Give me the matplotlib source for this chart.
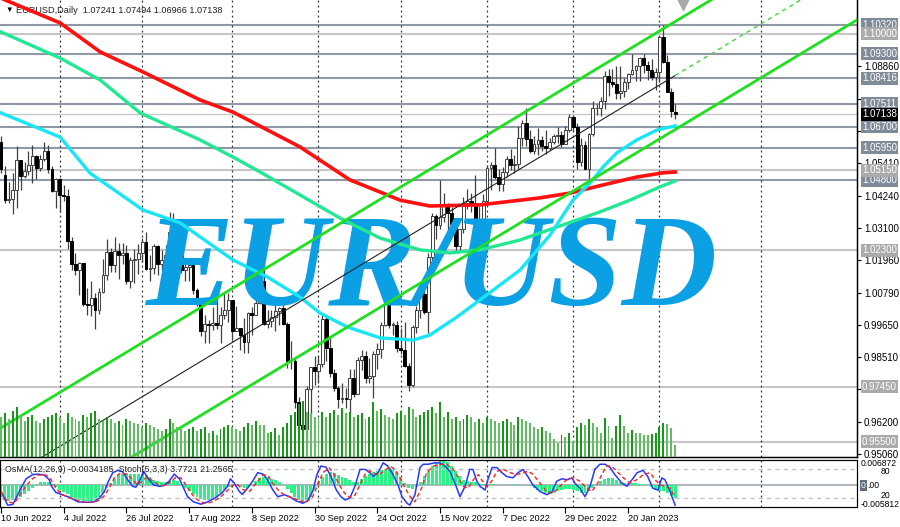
import numpy as np
import matplotlib
matplotlib.use('Agg')
import matplotlib.pyplot as plt

plt.rcParams['font.family'] = ['Liberation Sans', 'DejaVu Sans']

# EURUSD daily bars, 10 Jun 2022 .. 7 Feb 2023 (bar index 0..172)
opens = [1.0617, 1.0500, 1.0409, 1.0414, 1.0446, 1.0550, 1.0494, 1.0513, 1.0535, 1.0566, 1.0523, 1.0554, 1.0583, 1.0518, 1.0443,
         1.0484, 1.0426, 1.0423, 1.0265, 1.0182, 1.0160, 1.0186, 1.0040, 1.0037, 1.0062, 1.0019, 1.0083, 1.0141, 1.0226, 1.0177,
         1.0229, 1.0212, 1.0222, 1.0120, 1.0197, 1.0198, 1.0222, 1.0259, 1.0163, 1.0167, 1.0246, 1.0182, 1.0196, 1.0212, 1.0297,
         1.0323, 1.0258, 1.0161, 1.0171, 1.0178, 1.0088, 1.0038, 0.9943, 0.9967, 0.9966, 0.9971, 0.9965, 1.0002, 1.0017, 1.0054,
         0.9945, 0.9954, 0.9928, 0.9903, 1.0008, 1.0000, 1.0043, 1.0121, 0.9967, 0.9980, 0.9993, 1.0014, 1.0025, 0.9970, 0.9836,
         0.9838, 0.9690, 0.9608, 0.9594, 0.9736, 0.9815, 0.9802, 0.9825, 0.9987, 0.9882, 0.9793, 0.9742, 0.9702, 0.9706, 0.9703,
         0.9777, 0.9721, 0.9842, 0.9854, 0.9775, 0.9784, 0.9861, 0.9879, 0.9964, 1.0078, 0.9966, 0.9966, 0.9882, 0.9876, 0.9818,
         0.9751, 0.9959, 1.0017, 1.0075, 1.0012, 1.0206, 1.0354, 1.0321, 1.0349, 1.0391, 1.0363, 1.0325, 1.0245, 1.0305, 1.0397,
         1.0407, 1.0398, 1.0340, 1.0329, 1.0406, 1.0522, 1.0535, 1.0490, 1.0468, 1.0508, 1.0554, 1.0535, 1.0536, 1.0629, 1.0683,
         1.0626, 1.0585, 1.0609, 1.0622, 1.0603, 1.0594, 1.0614, 1.0636, 1.0639, 1.0610, 1.0660, 1.0705, 1.0668, 1.0545, 1.0606,
         1.0521, 1.0644, 1.0735, 1.0735, 1.0762, 1.0852, 1.0829, 1.0821, 1.0789, 1.0796, 1.0830, 1.0856, 1.0870, 1.0885, 1.0915,
         1.0891, 1.0870, 1.0848, 1.0863, 1.0988, 1.0900, 1.0795, 1.07241]
highs = [1.0637, 1.0531, 1.0475, 1.0506, 1.0601, 1.0550, 1.0545, 1.0582, 1.0606, 1.0568, 1.0570, 1.0614, 1.0605, 1.0532, 1.0487,
         1.0486, 1.0461, 1.0447, 1.0276, 1.0221, 1.0188, 1.0187, 1.0097, 1.0122, 1.0078, 1.0097, 1.0200, 1.0269, 1.0237, 1.0278,
         1.0257, 1.0258, 1.0249, 1.0206, 1.0234, 1.0254, 1.0274, 1.0294, 1.0214, 1.0254, 1.0249, 1.0230, 1.0248, 1.0368, 1.0364,
         1.0330, 1.0268, 1.0202, 1.0201, 1.0191, 1.0095, 1.0050, 0.9999, 0.9982, 1.0030, 1.0090, 1.0028, 1.0080, 1.0079, 1.0055,
         1.0034, 0.9955, 0.9988, 1.0011, 1.0029, 1.0113, 1.0198, 1.0187, 1.0019, 1.0017, 1.0037, 1.0029, 1.0051, 0.9977, 0.9907,
         0.9852, 0.9708, 0.9671, 0.9748, 0.9815, 0.9853, 0.9853, 0.9999, 0.9996, 0.9924, 0.9810, 0.9749, 0.9760, 0.9740, 0.9808,
         0.9808, 0.9850, 0.9876, 0.9873, 0.9848, 0.9871, 0.9901, 0.9976, 1.0094, 1.0090, 0.9977, 0.9980, 0.9954, 0.9977, 0.9829,
         0.9966, 1.0034, 1.0096, 1.0093, 1.0222, 1.0364, 1.0361, 1.0481, 1.0436, 1.0397, 1.0385, 1.0330, 1.0307, 1.0420, 1.0448,
         1.0433, 1.0497, 1.0389, 1.0429, 1.0533, 1.0545, 1.0595, 1.0518, 1.0527, 1.0566, 1.0589, 1.0568, 1.0673, 1.0694, 1.0736,
         1.0658, 1.0637, 1.0666, 1.0638, 1.0658, 1.0629, 1.0645, 1.0670, 1.0654, 1.0673, 1.0714, 1.0710, 1.0684, 1.0631, 1.0620,
         1.0648, 1.0760, 1.0752, 1.0777, 1.0868, 1.0874, 1.0874, 1.0887, 1.0887, 1.0843, 1.0861, 1.0927, 1.0888, 1.0919, 1.0930,
         1.0903, 1.0912, 1.0880, 1.0991, 1.1033, 1.0926, 1.0806, 1.07494]
lows = [1.0507, 1.0398, 1.0397, 1.0359, 1.0382, 1.0446, 1.0486, 1.0499, 1.0469, 1.0485, 1.0511, 1.0548, 1.0505, 1.0437, 1.0382,
        1.0366, 1.0407, 1.0236, 1.0161, 1.0144, 1.0072, 1.0034, 1.0000, 0.9998, 0.9952, 1.0005, 1.0077, 1.0124, 1.0152, 1.0153,
        1.0130, 1.0182, 1.0110, 1.0096, 1.0115, 1.0145, 1.0190, 1.0161, 1.0122, 1.0145, 1.0142, 1.0158, 1.0190, 1.0202, 1.0272,
        1.0235, 1.0148, 1.0122, 1.0123, 1.0075, 1.0033, 0.9926, 0.9900, 0.9902, 0.9946, 0.9950, 0.9900, 0.9986, 0.9976, 0.9910,
        0.9942, 0.9877, 0.9864, 0.9864, 0.9930, 0.9999, 1.0041, 0.9966, 0.9953, 0.9956, 0.9945, 0.9966, 0.9966, 0.9813, 0.9807,
        0.9671, 0.9552, 0.9575, 0.9536, 0.9636, 0.9750, 0.9757, 0.9815, 0.9835, 0.9780, 0.9730, 0.9669, 0.9686, 0.9670, 0.9632,
        0.9710, 0.9720, 0.9805, 0.9758, 0.9757, 0.9704, 0.9810, 0.9848, 0.9963, 0.9953, 0.9930, 0.9870, 0.9862, 0.9815, 0.9730,
        0.9745, 0.9935, 0.9991, 1.0004, 0.9938, 1.0188, 1.0270, 1.0308, 1.0331, 1.0294, 1.0306, 1.0223, 1.0225, 1.0291, 1.0378,
        1.0365, 1.0340, 1.0290, 1.0290, 1.0391, 1.0446, 1.0485, 1.0443, 1.0443, 1.0490, 1.0515, 1.0505, 1.0520, 1.0600, 1.0602,
        1.0576, 1.0574, 1.0568, 1.0583, 1.0574, 1.0588, 1.0610, 1.0613, 1.0598, 1.0610, 1.0651, 1.0654, 1.0520, 1.0530, 1.0521,
        1.0483, 1.0636, 1.0713, 1.0708, 1.0733, 1.0780, 1.0812, 1.0767, 1.0767, 1.0777, 1.0804, 1.0853, 1.0834, 1.0834, 1.0862,
        1.0835, 1.0836, 1.0799, 1.0829, 1.0897, 1.0794, 1.0706, 1.06966]
closes = [1.0518, 1.0408, 1.0414, 1.0446, 1.0550, 1.0494, 1.0513, 1.0535, 1.0566, 1.0523, 1.0554, 1.0583, 1.0518, 1.0443, 1.0484,
          1.0426, 1.0423, 1.0265, 1.0182, 1.0160, 1.0186, 1.0040, 1.0037, 1.0062, 1.0019, 1.0083, 1.0141, 1.0226, 1.0177, 1.0229,
          1.0212, 1.0222, 1.0120, 1.0197, 1.0198, 1.0222, 1.0259, 1.0163, 1.0167, 1.0246, 1.0182, 1.0196, 1.0212, 1.0297, 1.0323,
          1.0258, 1.0161, 1.0171, 1.0178, 1.0088, 1.0038, 0.9943, 0.9967, 0.9966, 0.9971, 0.9965, 1.0002, 1.0017, 1.0054, 0.9945,
          0.9954, 0.9928, 0.9903, 1.0008, 1.0000, 1.0043, 1.0121, 0.9967, 0.9980, 0.9993, 1.0014, 1.0025, 0.9970, 0.9836, 0.9838,
          0.9690, 0.9608, 0.9594, 0.9736, 0.9815, 0.9802, 0.9825, 0.9987, 0.9882, 0.9793, 0.9742, 0.9702, 0.9706, 0.9703, 0.9777,
          0.9721, 0.9842, 0.9854, 0.9775, 0.9784, 0.9861, 0.9879, 0.9964, 1.0078, 0.9966, 0.9966, 0.9882, 0.9876, 0.9818, 0.9751,
          0.9959, 1.0017, 1.0075, 1.0012, 1.0206, 1.0354, 1.0321, 1.0349, 1.0391, 1.0363, 1.0325, 1.0245, 1.0305, 1.0397, 1.0407,
          1.0398, 1.0340, 1.0329, 1.0406, 1.0522, 1.0535, 1.0490, 1.0468, 1.0508, 1.0554, 1.0535, 1.0536, 1.0629, 1.0683, 1.0626,
          1.0585, 1.0609, 1.0622, 1.0603, 1.0594, 1.0614, 1.0636, 1.0639, 1.0610, 1.0660, 1.0705, 1.0668, 1.0545, 1.0606, 1.0521,
          1.0644, 1.0735, 1.0735, 1.0762, 1.0852, 1.0829, 1.0821, 1.0789, 1.0796, 1.0830, 1.0856, 1.0870, 1.0885, 1.0915, 1.0891,
          1.0870, 1.0848, 1.0863, 1.0988, 1.0900, 1.0795, 1.0727, 1.07138]

# tick volume (thousands)
volumes = [40, 44, 38, 46, 50, 42, 36, 40, 42, 36, 34, 38, 40, 42, 44, 40,
           34, 44, 40, 38, 36, 42, 40, 44, 46, 38, 36, 40, 38, 34, 36, 32, 38, 36, 34, 33,
           30, 34, 32, 30, 28, 26, 28, 38, 34, 30, 28, 26, 28, 30, 26, 28, 30, 24, 26, 22, 28, 30, 32,
           30, 28, 26, 30, 34, 32, 36, 32, 32, 24, 25, 29, 22, 30, 34, 42, 45, 53, 56, 45, 44, 40,
           40, 45, 40, 44, 47, 42, 49, 44, 45, 40, 42, 44, 38, 40, 55, 46, 48, 42, 40, 38, 44,
           46, 42, 50, 48, 40, 42, 45, 47, 50, 44, 55, 40, 45, 38, 40, 36, 38, 42, 40, 35, 38, 34,
           40, 38, 36, 34, 36, 38, 35, 32, 40, 38, 36, 34, 30, 28, 30, 26, 24, 18, 14, 22, 20, 24,
           16, 30, 34, 32, 38, 34, 30,
           24, 39, 31, 19, 31, 42, 31, 24, 27, 24, 24, 22, 22, 23, 24, 30, 34, 33, 29, 12]

# moving averages (bar index, price)
ma_red_idx = [0, 15.1, 25.3, 36.2, 50.8, 59.2, 76.3, 89, 101.8, 109.4, 122.2, 137.5, 145.2, 153.6, 162.2, 168.9, 172]
ma_red = [1.1127, 1.1039, 1.0936, 1.0865, 1.0765, 1.0722, 1.0598, 1.0481, 1.0409, 1.0388, 1.0392, 1.0417, 1.0434,
          1.0463, 1.0491, 1.0506, 1.0509]
ma_teal_idx = [0, 15.1, 25.3, 35.5, 50.8, 59.2, 66.1, 76.3, 86.5, 96.7, 106.9, 114.5, 122.2, 132.4, 142.6, 152.8,
               160.5, 168.1, 172]
ma_teal = [1.1007, 1.0914, 1.0836, 1.0719, 1.0623, 1.0562, 1.0509, 1.0427, 1.0345, 1.0274, 1.0232, 1.0221, 1.0232,
           1.0267, 1.0317, 1.0367, 1.0409, 1.0456, 1.0477]
ma_cyan_idx = [0, 15.1, 22.7, 36.2, 45.7, 59.2, 67.9, 76.3, 81.4, 88.3, 96.7, 105.1, 109.4, 116.3, 122.2, 132.4,
               140.1, 145.9, 150.3, 153.6, 157.1, 162.2, 167.3, 170.7, 172]
ma_cyan = [1.0719, 1.0633, 1.0505, 1.0374, 1.0328, 1.0196, 1.0136, 1.0064, 1.0007, 0.9958, 0.9919, 0.9911, 0.9929,
           0.9993, 1.0054, 1.0160, 1.0285, 1.0409, 1.0470, 1.0527, 1.0577, 1.0623, 1.0658, 1.0669, 1.0673]

# equidistant channel: middle line anchors and half width
channel_idx = [0, 172]
channel_mid = [0.9407, 1.0852]
channel_half = 0.0192

# horizontal levels (price, label style)
levels_dark = [1.1032, 1.0930, 1.08416, 1.07511, 1.0670, 1.0595, 1.0480]
levels_light = [1.1000, 1.0515, 1.0230, 0.9745, 0.9550]
last_price = 1.07138

price_ticks = [1.08860, 1.07690, 1.06530, 1.05410, 1.04240, 1.03100, 1.01960, 1.00790,
               0.99650, 0.98510, 0.97370, 0.96200, 0.95060]
# scale labels that sit under a level tag are covered in the reference
covered_ticks = [1.07690, 1.06530, 0.97370]

separators = [15, 36, 59, 81, 102, 124, 146, 168, 194]
date_idx = [0, 16, 32, 48, 64, 80, 96, 112, 128, 144, 160]
date_labels = ['10 Jun 2022', '4 Jul 2022', '26 Jul 2022', '17 Aug 2022', '8 Sep 2022', '30 Sep 2022',
               '24 Oct 2022', '15 Nov 2022', '7 Dec 2022', '29 Dec 2022', '20 Jan 2023']

# OsMA(12,26,9) histogram, one value per bar
osma = [-0.0030, -0.0038, -0.0042, -0.0040, -0.0035, -0.0030, -0.0022, -0.0014, -0.0008, 0.0003,
        0.0008, 0.0010, 0.0009, 0.0003, -0.0005, -0.0012, -0.0018, -0.0024, -0.0030, -0.0036,
        -0.0040, -0.0042, -0.0043, -0.0042, -0.0038, -0.0030, -0.0020, -0.0008, 0.0006, 0.0018,
        0.0028, 0.0032, 0.0033, 0.0031, 0.0030, 0.0031, 0.0032, 0.0028, 0.0022, 0.0016,
        0.0012, 0.0010, 0.0010, 0.0012, 0.0014, 0.0012, 0.0004, -0.0006, -0.0014, -0.0022,
        -0.0030, -0.0036, -0.0040, -0.0040, -0.0037, -0.0030, -0.0020, -0.0012, -0.0004, 0.0004,
        0.0002, -0.0004, -0.0008, -0.0006, 0.0002, 0.0012, 0.0020, 0.0024, 0.0022, 0.0018,
        0.0014, 0.0008, 0.0000, -0.0010, -0.0020, -0.0030, -0.0038, -0.0042, -0.0040, -0.0030,
        -0.0012, 0.0008, 0.0024, 0.0032, 0.0035, 0.0033, 0.0028, 0.0024, 0.0020, 0.0014,
        0.0008, 0.0010, 0.0018, 0.0025, 0.0030, 0.0035, 0.0040, 0.0043, 0.0045, 0.0046,
        0.0044, 0.0036, 0.0022, 0.0006, -0.0008, -0.0010, -0.0004, 0.0008, 0.0025, 0.0040,
        0.0052, 0.0060, 0.0065, 0.0066, 0.0062, 0.0052, 0.0040, 0.0026, 0.0016, 0.0012,
        0.0010, 0.0008, 0.0005, 0.0003, 0.0002, 0.0004, 0.0004, 0.0002, 0.0001, 0.0000,
        0.0002, 0.0004, 0.0003, 0.0002, 0.0001, -0.0002, -0.0006, -0.0012, -0.0016, -0.0020,
        -0.0022, -0.0020, -0.0016, -0.0012, -0.0010, -0.0010, -0.0012, -0.0016, -0.0020, -0.0020,
        -0.0014, -0.0006, 0.0004, 0.0012, 0.0018, 0.0020, 0.0020, 0.0016, 0.0010, 0.0006,
        0.0006, 0.0007, 0.0006, 0.0005, 0.0004, 0.0002, -0.0004, -0.0012, -0.0016, -0.0014,
        -0.0020, -0.0028, -0.0034]

# Stochastic(5,3,3)
stoch_idx = [0.4, 1.7, 3, 5.1, 6.4, 8.1, 9.4, 11, 12.3, 12.9, 14, 15.3, 17, 18.3, 19.6, 22.1, 23.8, 25.1, 26.4, 27.2,
             28.5, 29.8, 31, 32.3, 33.6, 34.4, 35.5, 36.4, 37.4, 38.9, 40.4, 41.7, 42.9, 44.2, 45.5, 46.6, 47.6, 49.1,
             51, 52.7, 54.8, 56.5, 57.8, 58.5, 59.5, 60.8, 61.6, 62.9, 64.2, 65.5, 66.8, 68, 69.3, 70.6, 72.3, 73.6,
             75.3, 77, 78.2, 79.5, 80.6, 81.6, 82.9, 84.2, 85.5, 86.7, 87.8, 89, 90.3, 91.6, 92.9, 94.1, 95, 96.2,
             97.5, 98.7, 100, 101.3, 102.3, 103.6, 104.3, 105.6, 106.9, 107.7, 109, 110.7, 112, 113.3, 114.5, 115.8,
             117.1, 118.4, 119.6, 120.4, 121.4, 122.2, 123.5, 124.2, 125.3, 126.5, 127.8, 129, 130.6, 131.9, 133.2,
             134.4, 135.7, 137.5, 139.3, 140.6, 141.8, 143.1, 144.4, 145.7, 146.4, 147.7, 149, 150.3, 151.5, 152.8,
             154.1, 155.4, 156.6, 158.4, 159.7, 161, 162.3, 163.8, 165, 166.3, 167.6, 168.6, 169.4, 170.7, 172]
stoch_main = [26, 4, 5.5, 40, 60, 69, 70, 68, 58, 44, 31, 27, 22, 17, 11, 10, 11, 19, 33, 51,
              73, 78, 75, 58, 44, 42, 58, 76, 62, 47, 44, 46, 55, 70, 60, 40, 22, 11,
              6, 11, 20, 31, 44, 60, 51, 33, 27, 40, 55, 73, 70, 58, 37, 22, 26, 22,
              13, 8, 13, 33, 69, 87, 85, 65, 37, 22, 15, 19, 44, 80, 80, 73, 65, 73,
              94, 87, 69, 47, 22, 8, 4, 26, 84, 91, 91, 94, 94, 87, 76, 51,
              22, 44, 80, 80, 55, 44, 36, 58, 84, 84, 73, 65, 62, 73, 80,
              65, 47, 33, 26, 33, 55, 60, 58, 62, 51, 40, 22, 44, 80, 91,
              91, 84, 69, 51, 44, 58, 73, 78, 65, 40, 36, 62, 58, 33, 3.8]
signal_idx = [0, 1.7, 3.4, 6, 7.7, 9.4, 11.5, 12.8, 14, 15.3, 17, 18.7, 20.4, 23, 24.7, 26.4, 27.6, 28.9, 30.6,
              32.3, 33.6, 34.9, 36.1, 37.4, 38.7, 40.4, 42.1, 43.4, 44.6, 45.9, 47.2, 48.5, 50.2, 51.9, 53.6, 55.7,
              57.4, 59.1, 60.4, 61.7, 63.4, 65.1, 66.8, 68, 69.3, 71, 72.7, 74.4, 76.1, 77.8, 79.5, 80.8, 82.1,
              83.8, 85, 86.3, 87.6, 89, 90.3, 91.6, 92.9, 94, 95.2, 96.3, 98, 99.3, 100.5, 101.8, 103.1, 104.4,
              105.6, 107.3, 108.6, 110.3, 112.4, 113.7, 115.4, 116.7, 118, 119.2, 120.5, 121.8, 122.6, 123.9,
              125.2, 126.5, 128.2, 129.9, 131.6, 133.3, 134.5, 135.8, 137.5, 139.2, 140.9, 142.6, 144.3, 146,
              147.7, 149.4, 150.7, 152, 153.3, 154.5, 155.8, 157.1, 158.8, 160.5, 162.2, 163.9, 165.6, 166.9,
              168.1, 169.4, 170.7, 172]
stoch_signal = [33, 11, 8, 40, 58, 68, 68, 58, 40, 27, 22, 17, 11, 10, 13, 24, 40, 62, 73,
                69, 58, 47, 56, 65, 55, 46, 46, 55, 63, 62, 47, 29, 15, 8, 10, 19,
                32, 46, 47, 37, 33, 51, 68, 68, 51, 33, 24, 20, 13, 10, 22, 47, 73,
                83, 69, 47, 30, 20, 25, 48, 70, 77, 72, 68, 78, 87, 80, 62, 40, 22,
                11, 40, 73, 87, 91, 91, 80, 62, 44, 40, 58, 69, 58, 44,
                55, 76, 80, 73, 69, 73, 76, 69, 51, 33, 29, 44, 58, 62,
                55, 40, 33, 47, 69, 87, 87, 76, 62, 51, 58, 69, 73, 58,
                47, 44, 40, 21.3]

W, H = 900, 527
fig = plt.figure(figsize=(W / 100, H / 100), dpi=100)
ax = fig.add_axes([0, 1 - 457 / H, 857 / W, 457 / H])
x = np.arange(len(closes))
o, hi, lo, c = map(np.array, (opens, highs, lows, closes))
xlim = (-0.26, 218.4)

# horizontal levels
for lv in levels_dark:
    ax.axhline(lv, color='#8e99a5', lw=1.5, zorder=1)
for lv in levels_light:
    ax.axhline(lv, color='#c6c6c6', lw=1.5, zorder=1)
ax.axhline(last_price, color='#c8c8c8', lw=1.0, zorder=1)

for s in separators:
    ax.axvline(s, color='#303030', lw=0.9, ls=(0, (1.5, 2.5)), zorder=1.5)

# candles
up = c >= o
body = np.maximum(np.abs(c - o), 0.00012)
ax.vlines(x, lo, hi, color='#404040', lw=0.9, zorder=2)
ax.bar(x[up], body[up], bottom=o[up], width=0.72, color='white', edgecolor='#404040', lw=0.7, zorder=2.2)
ax.bar(x[~up], body[~up], bottom=c[~up], width=0.72, color='black', edgecolor='black', lw=0.7, zorder=2.2)

# watermark
ax.text(0.504, 0.333, 'EUR/USD', transform=ax.transAxes, ha='center', va='baseline',
        fontsize=95, family='Liberation Serif', weight='bold', style='italic', color='#0b9fe3', zorder=3)

# moving averages
ax.plot(ma_red_idx, ma_red, color='#ff1010', lw=2.6, zorder=4)
ax.plot(ma_teal_idx, ma_teal, color='#22e894', lw=2.4, zorder=4)
ax.plot(ma_cyan_idx, ma_cyan, color='#19e6f5', lw=2.4, zorder=4)

# channel
slope = (channel_mid[1] - channel_mid[0]) / (channel_idx[1] - channel_idx[0])
cx = np.array([-1, 230])
cmid = channel_mid[0] + slope * (cx - channel_idx[0])
ax.plot(cx, cmid + channel_half, color='#1fe01f', lw=2, zorder=4.5)
ax.plot(cx, cmid - channel_half, color='#1fe01f', lw=2, zorder=4.5)
ax.plot([cx[0], channel_idx[1]], [cmid[0], channel_mid[1]], color='#202020', lw=0.8, zorder=4.5)
ax.plot([channel_idx[1], cx[1]], [channel_mid[1], cmid[1]], color='#33dd33', lw=1, ls=(0, (3, 3)), zorder=4.5)

ax.plot([174], [1.1106], marker='v', ms=8, color='#a8a8a8', clip_on=False, zorder=5)

ax.set_xlim(*xlim)
ax.set_ylim(0.94953, 1.11207)
ax.set_xticks([])

ax.text(0.006, 0.978, '\u25BC', transform=ax.transAxes, fontsize=5.5, va='center', ha='left', color='black')
ax.text(0.019, 0.978, 'EURUSD,Daily  1.07241 1.07494 1.06966 1.07138', transform=ax.transAxes,
        fontsize=6.6, va='center', ha='left', color='#202020')

# volumes overlay
axv = ax.twinx()
vol = np.array(volumes)
vcol = ['#1a961a' if i > 0 and vol[i] > vol[i - 1] else '#62bd62' for i in range(len(vol))]
axv.bar(x, vol, width=0.5, color=vcol, zorder=2)
axv.set_ylim(0, 457)
axv.set_xlim(*xlim)
axv.set_yticks([])
axv.set_xticks([])
for sp in ('top', 'left'):
    axv.spines[sp].set_visible(False)

ax.yaxis.tick_right()
ax.set_yticks(price_ticks)
ax.set_yticklabels(['' if t in covered_ticks else '%.5f' % t for t in price_ticks])
ax.tick_params(axis='y', length=3, width=0.8, labelsize=7, pad=2, colors='black')
for sp in ('top', 'left'):
    ax.spines[sp].set_visible(False)
ax.spines['right'].set_linewidth(1)
ax.spines['bottom'].set_linewidth(1)


def tag(axis, y, text, fc, tc='white'):
    axis.annotate(text, xy=(1, y), xycoords=('axes fraction', 'data'), xytext=(5, 0),
                  textcoords='offset pixels', va='center', ha='left', fontsize=7, color=tc,
                  bbox=dict(boxstyle='square,pad=0.15', fc=fc, ec='none'),
                  annotation_clip=False, zorder=10)


for lv in levels_dark:
    tag(ax, lv, '%.5f' % lv, '#7f8b98')
for lv in levels_light:
    tag(ax, lv, '%.5f' % lv, '#ababab')
tag(ax, last_price, '%.5f' % last_price, 'black')

# indicator subwindow
ax2 = fig.add_axes([0, 1 - 507 / H, 857 / W, 47 / H])
ax2.bar(x, osma, width=0.75, color='#2af285', zorder=2)
ax2.axhline(0, color='#a0a8b2', lw=1.2, zorder=1)
ax2.set_ylim(-0.005812, 0.006872)
ax2.set_xlim(*xlim)
for s in separators:
    ax2.axvline(s, color='#303030', lw=0.9, ls=(0, (1.5, 2.5)), zorder=1.5)
ax2.set_xticks(date_idx)
ax2.set_xticklabels(date_labels, ha='left')
ax2.tick_params(axis='x', length=4, width=0.8, labelsize=6.6, pad=1)
ax2.set_yticks([])

ax2s = ax2.twinx()
ax2s.set_ylim(0, 100)
ax2s.set_xlim(*xlim)
ax2s.axhline(80, color='#c4c4c4', lw=1, ls=(0, (3, 3)), zorder=1)
ax2s.axhline(20, color='#c4c4c4', lw=1, ls=(0, (3, 3)), zorder=1)
ax2s.plot(stoch_idx, stoch_main, color='#2838ff', lw=1.1, zorder=3)
ax2s.plot(signal_idx, stoch_signal, color='#ff2020', lw=1, ls=(0, (3, 2)), zorder=3)
ax2s.set_yticks([])
ax2s.text(0.006, 0.8, 'OsMA(12,26,9) -0.0034185  Stoch(5,3,3) 3.7721 21.2565', transform=ax2s.transAxes,
          fontsize=6.4, va='center', ha='left', color='#202020')


def side(yv, txt, dx=4, size=6.2, **kw):
    ax2s.annotate(txt, xy=(1, yv), xycoords=('axes fraction', 'data'), xytext=(dx, 0),
                  textcoords='offset pixels', va='center', ha='left', fontsize=size,
                  annotation_clip=False, **kw)


side(92, '0.006872')
side(75, '80', dx=24)
side(25, '20', dx=24)
side(6, '-0.005812')
side(46, '0', color='white', bbox=dict(boxstyle='square,pad=0.1', fc='#5f6f80', ec='none'))
side(46, '.00', dx=10)

fig.savefig('out.png', dpi=100)
